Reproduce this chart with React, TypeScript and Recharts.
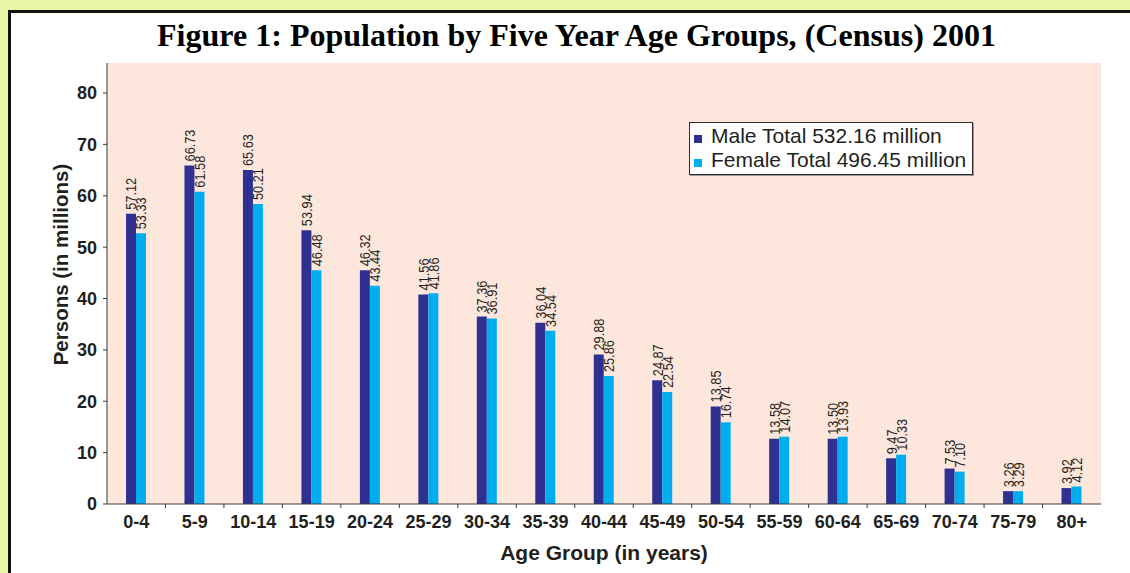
import { BarChart, Bar, XAxis, YAxis, CartesianGrid, Legend, LabelList } from "recharts";

const ageGroups = ["0-4", "5-9", "10-14", "15-19", "20-24", "25-29", "30-34", "35-39", "40-44", "45-49", "50-54", "55-59", "60-64", "65-69", "70-74", "75-79", "80+"];

// bar heights as drawn in the figure (millions)
const maleValues = [56.5, 65.9, 65.0, 53.3, 45.5, 40.8, 36.5, 35.3, 29.1, 24.1, 19.0, 12.7, 12.7, 8.9, 6.9, 2.5, 3.1];
const femaleValues = [52.7, 60.8, 58.4, 45.5, 42.5, 41.0, 36.1, 33.7, 24.9, 21.8, 15.9, 13.1, 13.1, 9.6, 6.3, 2.5, 3.4];

// value labels printed above the bars
const maleLabels = ["57.12", "66.73", "65.63", "53.94", "46.32", "41.56", "37.36", "36.04", "29.88", "24.87", "13.85", "13.58", "13.50", "9.47", "7.53", "3.26", "3.92"];
const femaleLabels = ["53.33", "61.58", "50.21", "46.48", "43.44", "41.86", "36.91", "34.54", "25.86", "22.54", "16.74", "14.07", "13.93", "10.33", "7.10", "3.29", "4.12"];

const yTicks = [0, 10, 20, 30, 40, 50, 60, 70, 80];

const maleName = "Male Total 532.16 million";
const femaleName = "Female Total 496.45 million";
const seriesOrder = [maleName, femaleName];
const chartTitle = "Figure 1: Population by Five Year Age Groups, (Census) 2001";
const xTitle = "Age Group (in years)";
const yTitle = "Persons (in millions)";

const data = ageGroups.map((group, i) => ({
  group,
  male: maleValues[i],
  female: femaleValues[i],
  maleLabel: maleLabels[i],
  femaleLabel: femaleLabels[i],
}));

const MALE = "#2e3192";
const FEMALE = "#00aeef";
const PINK = "#fde6dc";
const INK = "#231f20";
const SANS = "'Liberation Sans', Arial, Helvetica, sans-serif";
const SERIF = "'Liberation Serif', 'Times New Roman', serif";

const W = 1130;
const H = 573;
const MARGIN = { top: 63, right: 29, bottom: 0, left: 47 };
const Y_AXIS_W = 60;
const X_AXIS_H = 69;
const PLOT_W = W - MARGIN.left - Y_AXIS_W - MARGIN.right;
const BAND = PLOT_W / ageGroups.length;
const LABEL_SIZE = 15;

// rotated value label sitting just above a bar (slightly narrow type, like the original)
function BarValue(props: any) {
  const vb = props.viewBox ?? props;
  const value = String(props.value ?? "");
  const cx = vb.x + vb.width / 2;
  const ty = vb.y - 4;
  const em = value.split("").reduce((s, ch) => s + (ch === "." ? 0.278 : 0.556), 0);
  return (
    <text
      x={cx}
      y={ty}
      transform={`rotate(-90 ${cx} ${ty})`}
      textAnchor="start"
      dominantBaseline="central"
      fontFamily={SANS}
      fontSize={LABEL_SIZE}
      fill={INK}
      textLength={em * LABEL_SIZE * 0.85}
      lengthAdjust="spacingAndGlyphs"
    >
      {value}
    </text>
  );
}

// category label plus a tick mark at the right-hand band boundary
function AgeTick(props: any) {
  const { x, y, payload, index } = props;
  const edge = x + BAND / 2;
  return (
    <g>
      {index < ageGroups.length - 1 && (
        <line x1={edge} y1={y} x2={edge} y2={y + 4} stroke="#3a3a3a" strokeWidth={1} />
      )}
      <text x={x} y={y + 24} textAnchor="middle" fontFamily={SANS} fontWeight="bold" fontSize={18} fill={INK}>
        {payload.value}
      </text>
    </g>
  );
}

function YTitle(props: any) {
  const vb = props.viewBox ?? { x: MARGIN.left, y: MARGIN.top, width: Y_AXIS_W, height: 441 };
  const cx = vb.x + 13;
  const cy = vb.y + vb.height / 2 - 19;
  return (
    <text
      x={cx}
      y={cy}
      transform={`rotate(-90 ${cx} ${cy})`}
      textAnchor="middle"
      dominantBaseline="central"
      fontFamily={SANS}
      fontWeight="bold"
      fontSize={20.5}
      fill={INK}
    >
      {yTitle}
    </text>
  );
}

function XTitle(props: any) {
  const vb = props.viewBox ?? { x: MARGIN.left + Y_AXIS_W, y: 504, width: PLOT_W, height: X_AXIS_H };
  return (
    <text x={vb.x + vb.width / 2} y={vb.y + 56} textAnchor="middle" fontFamily={SANS} fontWeight="bold" fontSize={21} fill={INK}>
      {xTitle}
    </text>
  );
}

function LegendBox({ payload }: any) {
  const items = [...(payload ?? [])].sort(
    (a: any, b: any) => seriesOrder.indexOf(a.value) - seriesOrder.indexOf(b.value)
  );
  return (
    <div
      style={{
        width: 284,
        height: 53,
        boxSizing: "border-box",
        border: "1.5px solid #2a2a2a",
        boxShadow: "1px 1px 0 #9a9a9a",
        background: "#fff",
        padding: "1px 0 0 4px",
      }}
    >
      {items.map((p: any) => (
        <div
          key={p.value}
          style={{ fontFamily: SANS, fontSize: 21, lineHeight: "24px", color: INK, whiteSpace: "nowrap" }}
        >
          <span style={{ display: "inline-block", width: 8, height: 8, background: p.color, marginRight: 9 }} />
          {p.value}
        </div>
      ))}
    </div>
  );
}

export default function App() {
  return (
    <div style={{ position: "relative", width: W, height: H, background: "#e8f5a5", overflow: "hidden" }}>
      <style>{"body{margin:0}"}</style>
      <div
        style={{
          position: "absolute",
          left: 8,
          top: 10,
          right: 0,
          bottom: 0,
          background: "#fff",
          borderLeft: "3px solid #111",
          borderTop: "3px solid #111",
        }}
      />
      <svg width={W} height={60} style={{ position: "absolute", left: 0, top: 0 }}>
        <text
          x={157}
          y={46}
          fontFamily={SERIF}
          fontWeight="bold"
          fontSize={32}
          fill="#000"
          textLength={839}
          lengthAdjust="spacingAndGlyphs"
        >
          {chartTitle}
        </text>
      </svg>
      <div style={{ position: "absolute", left: 0, top: 0 }}>
        <BarChart width={W} height={H} data={data} margin={MARGIN} barGap={0}>
          <CartesianGrid horizontal={false} vertical={false} fill={PINK} />
          <XAxis
            dataKey="group"
            height={X_AXIS_H}
            interval={0}
            tickLine={false}
            tickSize={0}
            tickMargin={0}
            axisLine={{ stroke: "#3a3a3a" }}
            tick={<AgeTick />}
            label={{ content: XTitle }}
          />
          <YAxis
            width={Y_AXIS_W}
            domain={[0, 85.84]}
            ticks={yTicks}
            interval={0}
            tickSize={4}
            tickMargin={6}
            axisLine={{ stroke: "#3a3a3a" }}
            tickLine={{ stroke: "#3a3a3a" }}
            tick={{ fill: INK, fontSize: 18, fontWeight: "bold", fontFamily: SANS }}
            label={{ content: YTitle }}
          />
          <Legend
            layout="vertical"
            align="center"
            verticalAlign="middle"
            wrapperStyle={{ left: 689, top: 122, width: 284 }}
            content={<LegendBox />}
          />
          <Bar dataKey="male" name={maleName} fill={MALE} barSize={10} isAnimationActive={false}>
            <LabelList dataKey="maleLabel" content={BarValue} />
          </Bar>
          <Bar dataKey="female" name={femaleName} fill={FEMALE} barSize={10} isAnimationActive={false}>
            <LabelList dataKey="femaleLabel" content={BarValue} />
          </Bar>
        </BarChart>
      </div>
    </div>
  );
}
